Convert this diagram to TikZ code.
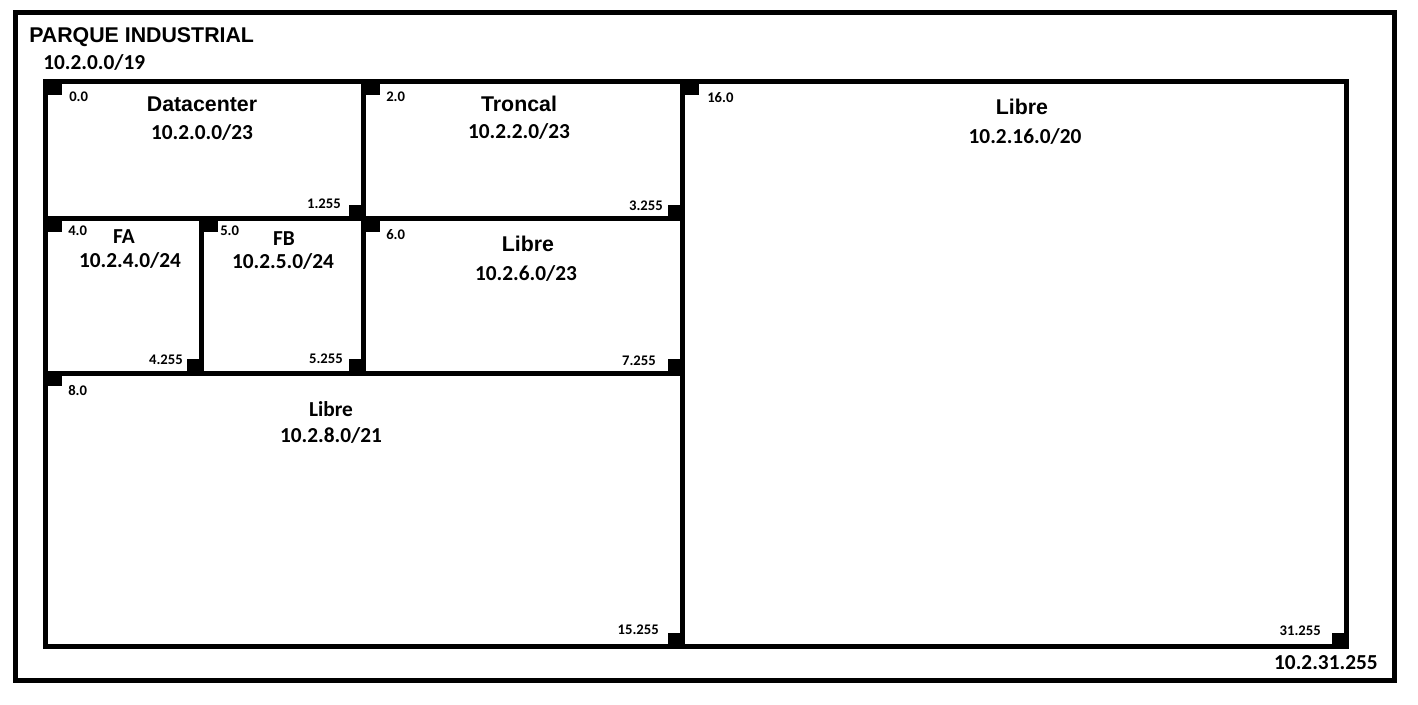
\documentclass[tikz,border=0pt]{standalone}
\usepackage{fontspec}
\newfontfamily\arialfont{Liberation Sans}
\newfontfamily\califont{Carlito}
\usetikzlibrary{positioning}

\begin{document}
\begin{tikzpicture}[x=0.75pt,y=-0.75pt,
	wall/.style={line width=3.75pt},
	title/.style={font=\arialfont\bfseries\fontsize{16}{18}\selectfont},
	net/.style={font=\califont\bfseries\fontsize{16}{18}\selectfont},
	ip/.style={font=\califont\bfseries\fontsize{11}{13}\selectfont,inner sep=0pt}]
		\useasboundingbox (0,0) rectangle (1418,704);
		% grid
		\coordinate (lt) at (45.5,81.5);
		\coordinate (rb) at (1346.5,646.5);
		\draw[wall] (15.5,12.5) rectangle (1394.5,680.5);
		\draw[wall] (lt) rectangle (rb);
		\draw[wall] (363.5,81.5) -- (363.5,373);
		\draw[wall] (682.5,81.5) -- (682.5,646.5);
		\draw[wall] (201.5,218.5) -- (201.5,373);
		\draw[wall] (45.5,218.5) -- (682.5,218.5);
		\draw[wall] (45.5,373) -- (682.5,373);
		% corner marks
		\foreach \x/\y in {45.5/81.5,363.5/81.5,682.5/81.5,45.5/218.5,201.5/218.5,363.5/218.5,45.5/373}
			\fill (\x-2,\y-2) rectangle (\x+16,\y+13);
		\foreach \x/\y in {363.5/218.5,682.5/218.5,201.5/373,363.5/373,682.5/373,682.5/646.5,1346.5/646.5}
			\fill (\x+2,\y+2) rectangle (\x-15,\y-14);

		\node[title,anchor=west,inner sep=0pt] (parque) at (29,37) {PARQUE INDUSTRIAL};
		\node[net,anchor=west,inner sep=0pt] (parquenet) at (43,62) {10.2.0.0/19};
		\node[net,anchor=east,inner sep=0pt] (parquefin) at (1378,663) {10.2.31.255};

		\node[title] (dc) at (202,104) {Datacenter};
		\node[net] (dcnet) at (202,132) {10.2.0.0/23};
		\node[ip,anchor=west] (dcini) at (69,97) {0.0};
		\node[ip,anchor=east] (dcfin) at (341,204) {1.255};

		\node[title] (tr) at (519,104) {Troncal};
		\node[net] (trnet) at (519,131) {10.2.2.0/23};
		\node[ip,anchor=west] (trini) at (386,97) {2.0};
		\node[ip,anchor=east] (trfin) at (663,206) {3.255};

		\node[net] (fa) at (124,237) {FA};
		\node[net] (fanet) at (130,260) {10.2.4.0/24};
		\node[ip,anchor=west] (faini) at (68,231) {4.0};
		\node[ip,anchor=east] (fafin) at (183,360) {4.255};

		\node[net] (fb) at (284,239) {FB};
		\node[net] (fbnet) at (283,261) {10.2.5.0/24};
		\node[ip,anchor=west] (fbini) at (220,231) {5.0};
		\node[ip,anchor=east] (fbfin) at (343,359) {5.255};

		\node[title] (lb6) at (528,244) {Libre};
		\node[net] (lb6net) at (526,273) {10.2.6.0/23};
		\node[ip,anchor=west] (lb6ini) at (386,235) {6.0};
		\node[ip,anchor=east] (lb6fin) at (656,361) {7.255};

		\node[net] (lb8) at (331,409) {Libre};
		\node[net] (lb8net) at (331,435) {10.2.8.0/21};
		\node[ip,anchor=west] (lb8ini) at (68,390) {8.0};
		\node[ip,anchor=east] (lb8fin) at (659,630) {15.255};

		\node[title] (lb16) at (1022,107) {Libre};
		\node[net] (lb16net) at (1025,136) {10.2.16.0/20};
		\node[ip,anchor=west] (lb16ini) at (707,98) {16.0};
		\node[ip,anchor=east] (lb16fin) at (1321,631) {31.255};
\end{tikzpicture}
\end{document}
